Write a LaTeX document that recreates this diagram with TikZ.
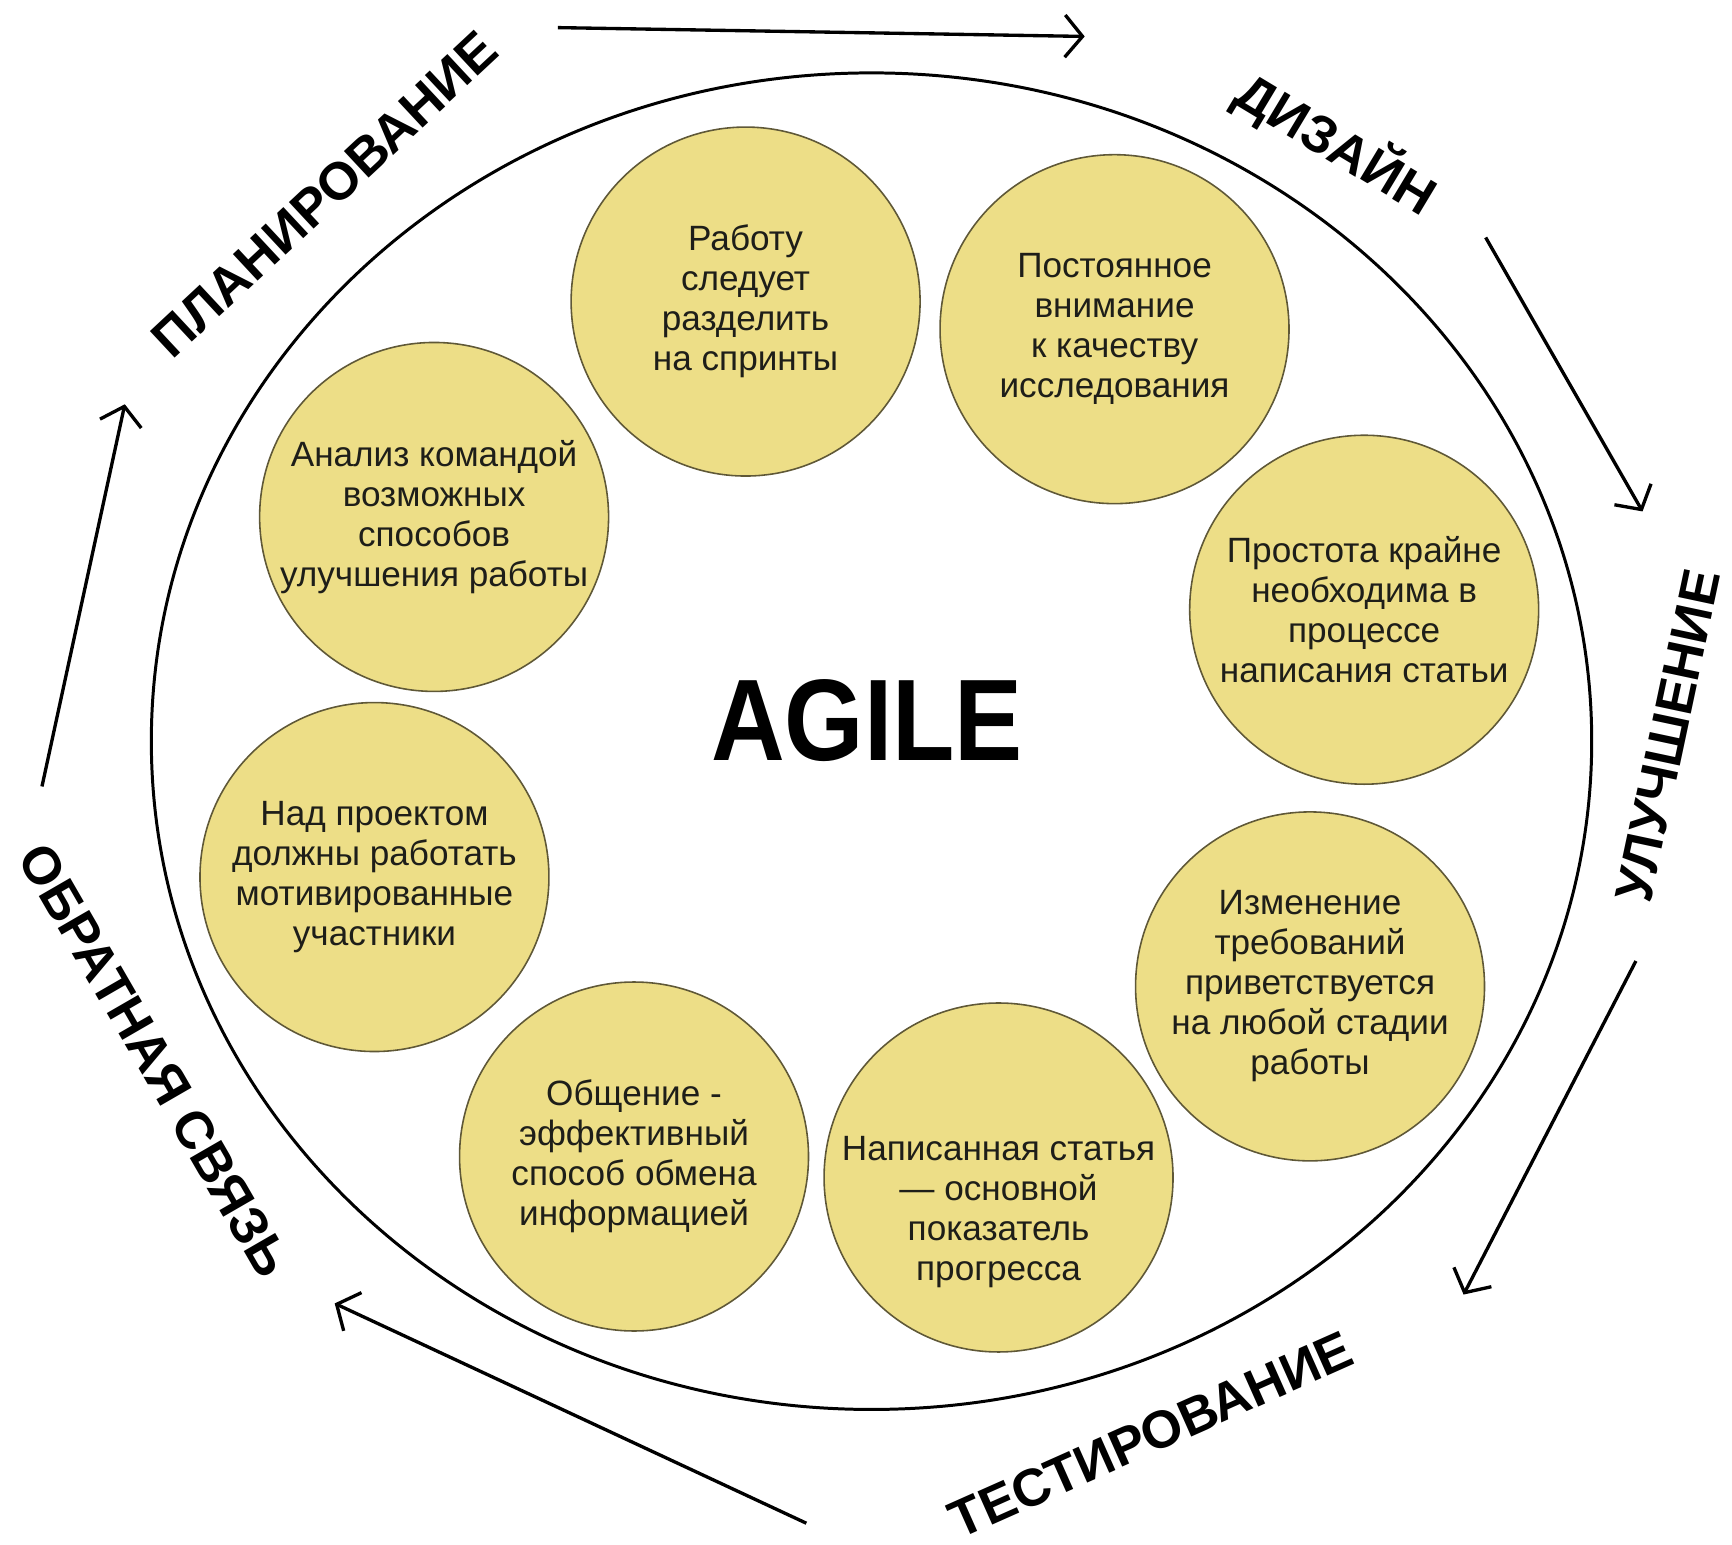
\documentclass[tikz,border=0pt]{standalone}
\usepackage{fontspec}
\setmainfont{Liberation Sans}
\usetikzlibrary{arrows.meta}
\definecolor{cfill}{RGB}{237,222,135}
\definecolor{cline}{RGB}{95,88,55}
\definecolor{ctext}{RGB}{30,30,25}
\begin{document}
\begin{tikzpicture}[x=0.011046cm,y=-0.011046cm,
  idea/.style={circle,draw=cline,fill=cfill,line width=0.45pt,minimum size=3.49cm,inner sep=0pt,align=center,font=\fontsize{10pt}{11.4pt}\selectfont,text=ctext},
  ideatext/.style={align=center,font=\fontsize{10pt}{11.4pt}\selectfont,text=ctext,inner sep=0pt},
  stage/.style={font=\fontsize{15pt}{18pt}\selectfont\bfseries,inner sep=0pt},
  flow/.style={line width=0.95pt,-{Straight Barb[length=5pt,width=12pt,line width=0.95pt]}}]
\useasboundingbox (0,0) rectangle (1568,1398);
\draw[line width=0.85pt] (789,671) ellipse [x radius=652, y radius=605];

\node[idea] (c1) at (675,273) {Работу\\следует\\разделить\\на спринты};
\node[idea] (c2) at (1009,298) {Постоянное\\внимание\\к качеству\\исследования};
\node[idea] (c3) at (1235,552) {Простота крайне\\необходима в\\процессе\\написания статьи};
\node[idea] (c4) at (1186,893) {Изменение\\требований\\приветствуется\\на любой стадии\\работы};
\node[idea] (c5) at (904,1066) {};
\node[ideatext] (t5) at (904,1097) {Написанная статья\\— основной\\показатель\\прогресса};
\node[idea] (c6) at (574,1047) {Общение -\\эффективный\\способ обмена\\информацией};
\node[idea] (c7) at (339,794) {Над проектом\\должны работать\\мотивированные\\участники};
\node[idea] (c8) at (393,468) {Анализ командой\\возможных\\способов\\улучшения работы};

\node[font=\fontsize{33pt}{36pt}\selectfont\bfseries,inner sep=0pt] (agile) at (785,652) {\scalebox{0.88}[1]{AGILE}};

\node[stage,rotate=43] (plan) at (294,176) {ПЛАНИРОВАНИЕ};
\node[stage,rotate=-31] (design) at (1210,130) {ДИЗАЙН};
\node[stage,rotate=78] (improve) at (1510,666) {УЛУЧШЕНИЕ};
\node[stage,rotate=24] (test) at (1042,1299) {ТЕСТИРОВАНИЕ};
\node[stage,rotate=-60] (feedback) at (140,960) {ОБРАТНАЯ СВЯЗЬ};

\coordinate (a1s) at (505,25);  \coordinate (a1e) at (982,33);
\coordinate (a2s) at (1345,215); \coordinate (a2e) at (1487,463);
\coordinate (a3s) at (1481,870); \coordinate (a3e) at (1325,1172);
\coordinate (a4s) at (730,1379); \coordinate (a4e) at (303,1180);
\coordinate (a5s) at (38,712);  \coordinate (a5e) at (113,366);
\draw[flow] (a1s) -- (a1e);
\draw[flow] (a2s) -- (a2e);
\draw[flow] (a3s) -- (a3e);
\draw[flow] (a4s) -- (a4e);
\draw[flow] (a5s) -- (a5e);
\end{tikzpicture}
\end{document}
